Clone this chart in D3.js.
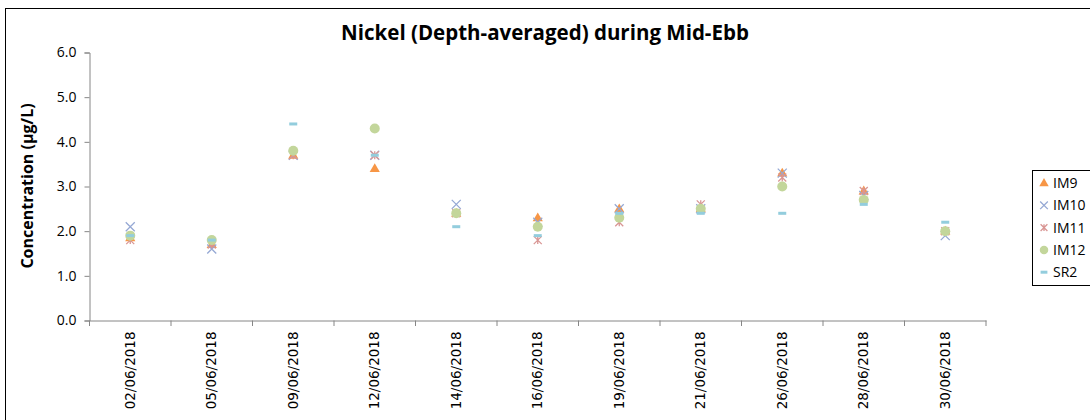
<!DOCTYPE html>
<html><head><meta charset="utf-8">
<script src="https://cdn.jsdelivr.net/npm/d3@7/dist/d3.min.js"></script>
<style>body{margin:0;background:#fff}</style>
</head><body>
<svg id="c" width="1090" height="420"></svg>
<script>
const categories = ["02/06/2018","05/06/2018","09/06/2018","12/06/2018","14/06/2018","16/06/2018","19/06/2018","21/06/2018","26/06/2018","28/06/2018","30/06/2018"];
const seriesNames = ["IM9","IM10","IM11","IM12","SR2"];
const IM9  = [1.85,1.7,3.7,3.4,2.4,2.3,2.5,2.5,3.3,2.9,2.0];
const IM10 = [2.1,1.6,3.7,3.7,2.6,2.2,2.5,2.5,3.3,2.8,1.9];
const IM11 = [1.8,1.7,3.7,3.7,2.4,1.8,2.2,2.6,3.2,2.9,2.0];
const IM12 = [1.9,1.8,3.8,4.3,2.4,2.1,2.3,2.5,3.0,2.7,2.0];
const SR2  = [1.9,1.8,4.4,3.7,2.1,1.9,2.4,2.4,2.4,2.6,2.2];
const yTicks = [0,1,2,3,4,5,6];
const title = "Nickel (Depth-averaged) during Mid-Ebb";
const yTitle = "Concentration (µg/L)";

const data = {IM9, IM10, IM11, IM12, SR2};
const colors = {IM9:"#F79646", IM10:"#95A8D4", IM11:"#D99694", IM12:"#C3D69B", SR2:"#93CDDD"};

const svg = d3.select("#c");
svg.append("rect").attr("x",5.5).attr("y",8.5).attr("width",1100).attr("height",420).attr("fill","none").attr("stroke","#000").attr("stroke-width",1);

const x = d3.scaleBand().domain(categories).range([89.5,986]);
const y = d3.scaleLinear().domain([0,6]).range([320.5,52.5]);

svg.append("text").attr("x",545).attr("y",40).attr("text-anchor","middle")
  .attr("font-family","Open Sans, Liberation Sans, sans-serif").attr("font-weight","bold").attr("font-size",20.5).text(title);

const yAx = svg.append("g").attr("transform","translate(89.5,0)")
  .call(d3.axisLeft(y).tickValues(yTicks).tickFormat(d3.format(".1f")).tickSizeOuter(0).tickSize(5));
yAx.selectAll("path,line").attr("stroke","#868686");
yAx.selectAll("text").attr("font-family","Open Sans, Liberation Sans, sans-serif").attr("font-size",14).attr("fill","#000").attr("x",-13);

const xAx = svg.append("g").attr("transform","translate(0,320.5)")
  .call(d3.axisBottom(x).tickSize(0).tickSizeOuter(0));
xAx.select("path").attr("stroke","#868686");
xAx.selectAll("text").attr("font-family","DejaVu Sans, sans-serif").attr("font-size",13.5).attr("fill","#000")
  .attr("transform","rotate(-90)").attr("text-anchor","end").attr("x",-11).attr("y",0).attr("dy","0.35em");
const bounds = categories.map(c=>x(c)).concat([x.range()[1]]);
svg.append("g").selectAll("line").data(bounds).join("line")
  .attr("x1",d=>d).attr("x2",d=>d).attr("y1",320.5).attr("y2",326).attr("stroke","#868686");

svg.append("text").attr("transform","translate(33,186) rotate(-90)").attr("text-anchor","middle")
  .attr("font-family","Open Sans, Liberation Sans, sans-serif").attr("font-weight","bold").attr("font-size",16).text(yTitle);

function drawMarker(g, name, cx, cy, s){
  const c = colors[name];
  if(name==="IM9"){
    g.append("path").attr("d",d3.symbol(d3.symbolTriangle, 45*s)()).attr("transform",`translate(${cx},${cy+0.5})`).attr("fill",c);
  } else if(name==="IM10"){
    const r=4.5*s;
    g.append("path").attr("d",`M${cx-r},${cy-r}L${cx+r},${cy+r}M${cx-r},${cy+r}L${cx+r},${cy-r}`).attr("stroke",c).attr("stroke-width",1.3).attr("fill","none");
  } else if(name==="IM11"){
    const r=4*s;
    g.append("path").attr("d",`M${cx-r},${cy-r}L${cx+r},${cy+r}M${cx-r},${cy+r}L${cx+r},${cy-r}M${cx},${cy-r}L${cx},${cy+r}`).attr("stroke",c).attr("stroke-width",1.3).attr("fill","none");
  } else if(name==="IM12"){
    g.append("circle").attr("cx",cx).attr("cy",cy).attr("r",5*s).attr("fill",c);
  } else {
    g.append("rect").attr("x",cx-4*s).attr("y",cy-1.5).attr("width",8*s).attr("height",3).attr("fill",c);
  }
}

const plot = svg.append("g");
seriesNames.forEach(n=>{
  data[n].forEach((v,i)=>{
    drawMarker(plot, n, x(categories[i])+x.bandwidth()/2, y(v), 1);
  });
});

const lg = svg.append("g");
lg.append("rect").attr("x",1032.5).attr("y",170.5).attr("width",80).attr("height",115).attr("fill","#fff").attr("stroke","#000");
seriesNames.forEach((n,i)=>{
  const cy = 183 + i*22.3;
  drawMarker(lg, n, 1044, cy, 0.85);
  lg.append("text").attr("x",1053).attr("y",cy).attr("dy","0.35em")
    .attr("font-family","Open Sans, Liberation Sans, sans-serif").attr("font-size",14).text(n);
});
</script>
</body></html>
